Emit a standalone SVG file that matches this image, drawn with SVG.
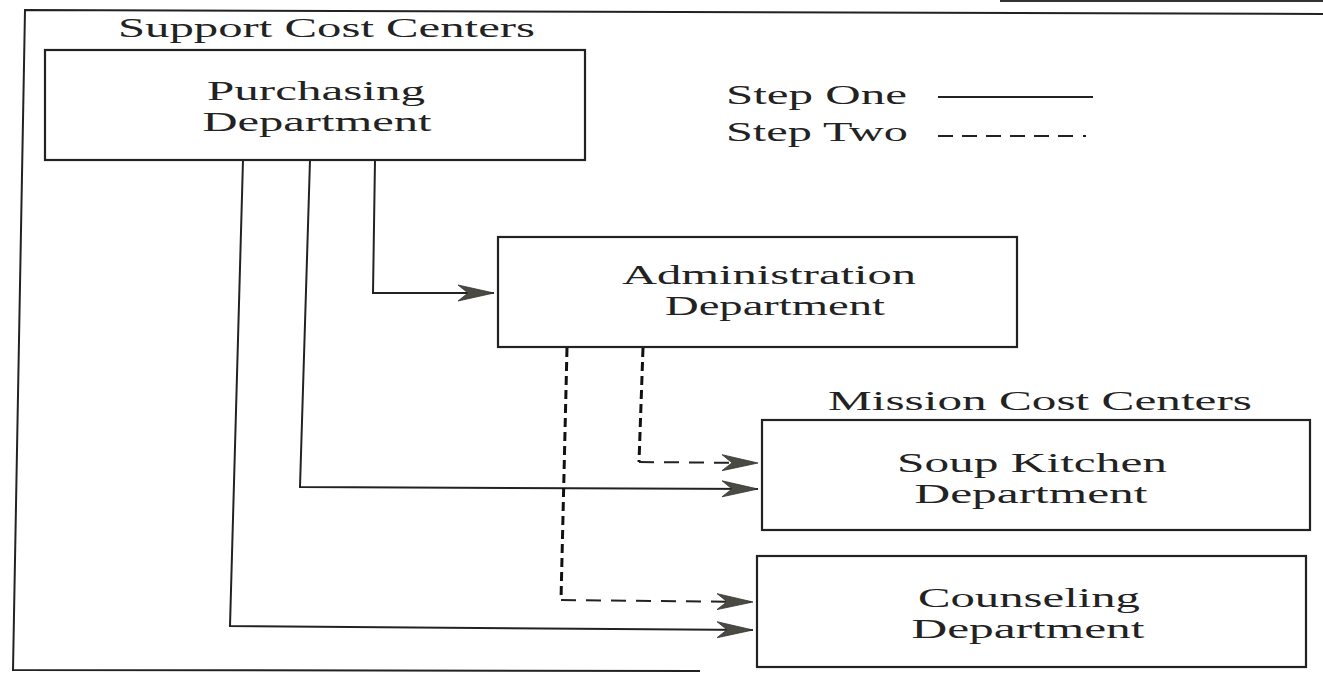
<svg xmlns="http://www.w3.org/2000/svg" width="1323" height="676" viewBox="0 0 1323 676">
<style>
  .box { fill: #fff; stroke: #222; stroke-width: 2.2; }
  .t { font-family: "Liberation Serif", "Times New Roman", serif; font-size: 27px; fill: #222; }
  .ln { fill: none; stroke: #222; stroke-width: 2; }
  .dv { fill: none; stroke: #111; stroke-width: 3; stroke-dasharray: 9 5; }
  .dh { fill: none; stroke: #222; stroke-width: 2; stroke-dasharray: 15 10; }
</style>
<defs>
  <marker id="ah" markerUnits="userSpaceOnUse" markerWidth="40" markerHeight="20" viewBox="0 -10 40 20" refX="36" refY="0" orient="auto">
    <path d="M0,-8 L36,0 L0,8 L10,0 Z" fill="#4a4a42" stroke="#333" stroke-width="0.8"/>
  </marker>
</defs>
<rect width="1323" height="676" fill="#fff"/>
<g id="frame">
  <path class="ln" d="M1323,14 L25,10 L13,670 L700,671"/>
  <path d="M1000,1 L1323,1" stroke="#333" stroke-width="2"/>
</g>
<g id="labels">
  <text class="t" x="118" y="37" textLength="417" lengthAdjust="spacingAndGlyphs">Support Cost Centers</text>
  <text class="t" x="828" y="410" textLength="424" lengthAdjust="spacingAndGlyphs">Mission Cost Centers</text>
</g>
<g id="legend">
  <text class="t" x="726" y="104" textLength="181" lengthAdjust="spacingAndGlyphs">Step One</text>
  <text class="t" x="726" y="141" textLength="182" lengthAdjust="spacingAndGlyphs">Step Two</text>
  <path class="ln" d="M938,97 L1093,97"/>
  <path class="ln" d="M938,136 L1078,136" stroke-dasharray="15 9"/>
  <path class="ln" d="M1083,136 L1086,136"/>
</g>
<g id="purchasing">
  <rect class="box" x="45" y="50" width="540" height="110"/>
  <text class="t" x="316" y="100" text-anchor="middle" textLength="218" lengthAdjust="spacingAndGlyphs">Purchasing</text>
  <text class="t" x="317" y="131" text-anchor="middle" textLength="229" lengthAdjust="spacingAndGlyphs">Department</text>
</g>
<g id="administration">
  <rect class="box" x="498" y="237" width="519" height="110"/>
  <text class="t" x="769" y="284" text-anchor="middle" textLength="294" lengthAdjust="spacingAndGlyphs">Administration</text>
  <text class="t" x="775" y="315" text-anchor="middle" textLength="220" lengthAdjust="spacingAndGlyphs">Department</text>
</g>
<g id="soup-kitchen">
  <rect class="box" x="762" y="420" width="548" height="110"/>
  <text class="t" x="1032" y="472" text-anchor="middle" textLength="270" lengthAdjust="spacingAndGlyphs">Soup Kitchen</text>
  <text class="t" x="1031" y="503" text-anchor="middle" textLength="233" lengthAdjust="spacingAndGlyphs">Department</text>
</g>
<g id="counseling">
  <rect class="box" x="757" y="556" width="549" height="111"/>
  <text class="t" x="1029" y="607" text-anchor="middle" textLength="222" lengthAdjust="spacingAndGlyphs">Counseling</text>
  <text class="t" x="1028" y="638" text-anchor="middle" textLength="233" lengthAdjust="spacingAndGlyphs">Department</text>
</g>
<g id="connectors">
  <path class="ln" d="M375,160 L373,293 L494,293" marker-end="url(#ah)"/>
  <path class="ln" d="M310,160 L300,487 L758,489" marker-end="url(#ah)"/>
  <path class="ln" d="M243,160 L230,626 L753,630" marker-end="url(#ah)"/>
  <path class="dv" d="M643,348 L639,462"/>
  <path class="dh" d="M639,462 L758,463" marker-end="url(#ah)"/>
  <path class="dv" d="M567,348 L561,600"/>
  <path class="dh" d="M561,600 L753,602" marker-end="url(#ah)"/>
</g>
</svg>
